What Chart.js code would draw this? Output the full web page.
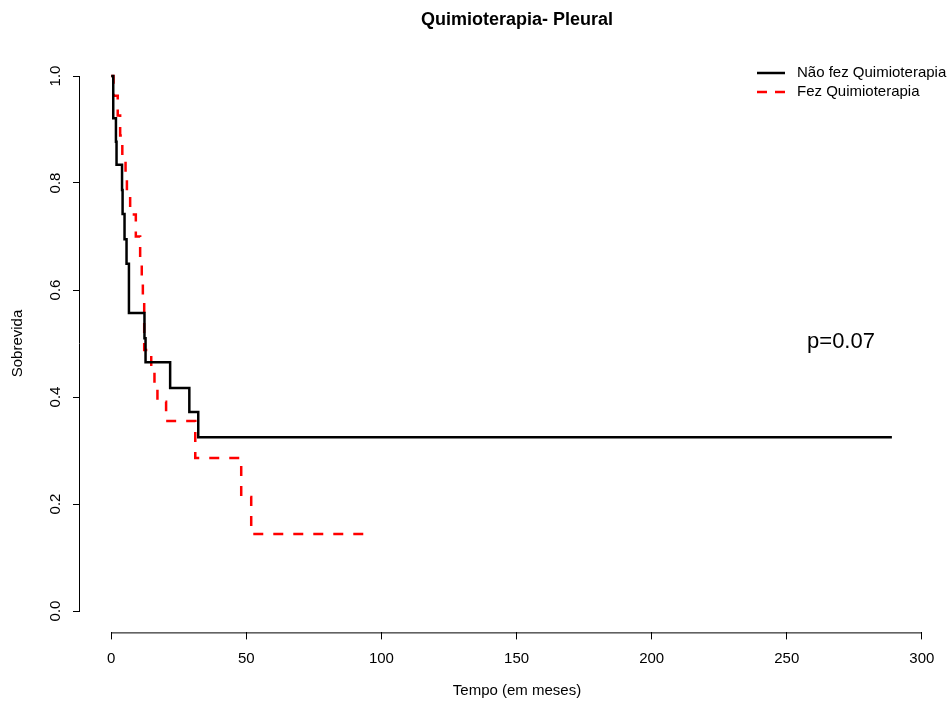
<!DOCTYPE html>
<html>
<head>
<meta charset="utf-8">
<script src="https://cdn.jsdelivr.net/npm/chart.js@4.4.1/dist/chart.umd.min.js"></script>
<style>
  html, body { margin: 0; padding: 0; background: #fff; }
  #wrap { width: 949px; height: 702px; }
</style>
</head>
<body>
<div id="wrap"><canvas id="grafico"></canvas></div>
<script>
// tempos (meses) e sobrevida estimada - Kaplan-Meier
const tempoNaoFez = [0, 0.74, 1.74, 1.96, 4.0, 4.2, 4.92, 5.66, 6.55, 12.3, 12.7, 21.8, 28.9, 32.2, 288.9];
const sobrevNaoFez = [1, 0.921, 0.877, 0.834, 0.787, 0.742, 0.695, 0.649, 0.557, 0.510, 0.465, 0.417, 0.372, 0.325, 0.325];

const tempoFez = [0, 0.85, 2.4, 3.3, 4.1, 5.3, 5.8, 7.0, 9.1, 10.7, 11.3, 11.7, 12.2, 14.8, 16.0, 17.1, 20.3, 31.1, 48.1, 51.8, 94.3];
const sobrevFez = [1, 0.963, 0.926, 0.889, 0.852, 0.815, 0.778, 0.741, 0.700, 0.655, 0.615, 0.576, 0.488, 0.457, 0.425, 0.391, 0.355, 0.286, 0.213, 0.144, 0.144];

const xTicks = [0, 50, 100, 150, 200, 250, 300];
const yTicks = [0, 0.2, 0.4, 0.6, 0.8, 1.0];

const legendas = ['Não fez Quimioterapia', 'Fez Quimioterapia'];
const titulo = 'Quimioterapia- Pleural';
const tituloX = 'Tempo (em meses)';
const textoP = 'p=0.07';

const fonte = '"Liberation Sans", Arial, sans-serif';

function pontos(tempos, valores) {
  return tempos.map(function(t, i) { return { x: t, y: valores[i] }; });
}

// eixos estilo R: linha só entre o primeiro e o último tick, rótulos do y girados
const eixosR = {
  id: 'eixosR',
  afterDraw: function(chart) {
    const ctx = chart.ctx;
    const xs = chart.scales.x;
    const ys = chart.scales.y;
    const area = chart.chartArea;
    ctx.save();
    ctx.strokeStyle = '#000';
    ctx.lineWidth = 1;
    ctx.beginPath();
    ctx.moveTo(xs.getPixelForValue(xTicks[0]), area.bottom + 0.5);
    ctx.lineTo(xs.getPixelForValue(xTicks[xTicks.length - 1]), area.bottom + 0.5);
    ctx.moveTo(area.left - 0.5, ys.getPixelForValue(yTicks[0]));
    ctx.lineTo(area.left - 0.5, ys.getPixelForValue(yTicks[yTicks.length - 1]));
    ctx.stroke();

    ctx.fillStyle = '#000';
    ctx.font = '15px ' + fonte;
    ctx.textAlign = 'center';
    ctx.textBaseline = 'middle';
    yTicks.forEach(function(v) {
      ctx.save();
      ctx.translate(56, ys.getPixelForValue(v));
      ctx.rotate(-Math.PI / 2);
      ctx.fillText(v.toFixed(1), 0, 0);
      ctx.restore();
    });

    // título do eixo x
    ctx.fillText(tituloX, 517, 691);

    // título
    ctx.font = 'bold 18px ' + fonte;
    ctx.fillText(titulo, 517, 20);

    // valor p
    ctx.font = '22px ' + fonte;
    ctx.fillText(textoP, 841, 342);

    // legenda
    ctx.font = '15px ' + fonte;
    ctx.textAlign = 'left';
    const cores = ['#000', '#ff0000'];
    const tracos = [[], [10, 8]];
    legendas.forEach(function(txt, i) {
      const yy = 73 + i * 19;
      ctx.strokeStyle = cores[i];
      ctx.lineWidth = 2.5;
      ctx.setLineDash(tracos[i]);
      ctx.beginPath();
      ctx.moveTo(757, yy);
      ctx.lineTo(785, yy);
      ctx.stroke();
      ctx.setLineDash([]);
      ctx.fillText(txt, 797, yy);
    });
    ctx.restore();
  }
};

const ctx = document.getElementById('grafico').getContext('2d');

const grafico = new Chart(ctx, {
  type: 'line',
  data: {
    datasets: [{
      label: legendas[0],
      data: pontos(tempoNaoFez, sobrevNaoFez),
      borderColor: '#000',
      borderWidth: 2.5,
      stepped: true,
      pointRadius: 0,
      fill: false
    }, {
      label: legendas[1],
      data: pontos(tempoFez, sobrevFez),
      borderColor: '#ff0000',
      borderWidth: 2.5,
      borderDash: [10, 10],
      stepped: true,
      pointRadius: 0,
      fill: false
    }]
  },
  options: {
    responsive: true,
    maintainAspectRatio: false,
    animation: false,
    layout: {
      padding: { top: 54.6, right: 25.6, left: 0, bottom: 0 }
    },
    plugins: {
      legend: { display: false },
      tooltip: { enabled: false }
    },
    scales: {
      x: {
        type: 'linear',
        min: -11.56,
        max: 300.56,
        afterBuildTicks: function(scale) {
          scale.ticks = xTicks.map(function(v) { return { value: v }; });
        },
        afterFit: function(scale) { scale.height = 69.6; },
        grid: { display: true, drawOnChartArea: false, drawTicks: true, tickLength: 7, color: '#000' },
        border: { display: false },
        ticks: {
          color: '#000',
          font: { family: fonte, size: 15 },
          padding: 10,
          maxRotation: 0,
          autoSkip: false
        }
      },
      y: {
        type: 'linear',
        min: -0.04,
        max: 1.04,
        afterBuildTicks: function(scale) {
          scale.ticks = yTicks.map(function(v) { return { value: v }; });
        },
        afterFit: function(scale) { scale.width = 80; },
        grid: { display: true, drawOnChartArea: false, drawTicks: true, tickLength: 7, color: '#000' },
        border: { display: false },
        ticks: { display: false },
        title: {
          display: true,
          text: 'Sobrevida',
          color: '#000',
          font: { family: fonte, size: 15 },
          padding: { top: 9, bottom: 0 }
        }
      }
    }
  },
  plugins: [eixosR]
});
</script>
</body>
</html>
